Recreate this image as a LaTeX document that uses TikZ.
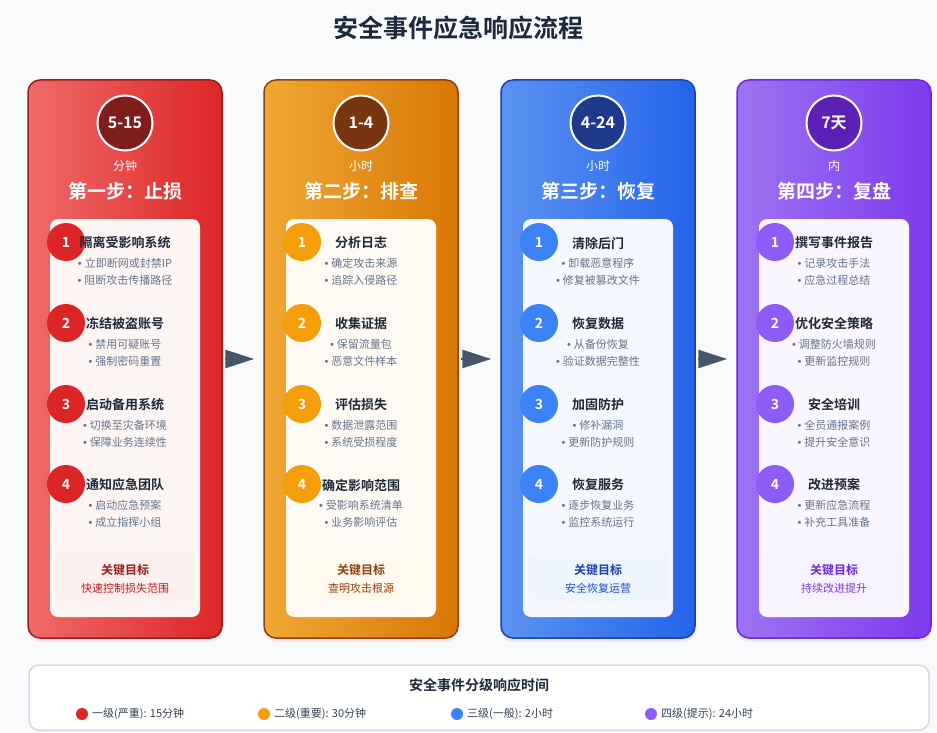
\documentclass[tikz,border=0pt]{standalone}
\usepackage{fontspec}
\setmainfont{Noto Sans CJK SC}[BoldFont={Noto Sans CJK SC Bold}]
\newfontfamily\latinf{Liberation Sans}
\usetikzlibrary{arrows.meta,shadows}
\definecolor{bg}{HTML}{F8FAFC}
\definecolor{ink}{HTML}{1E293B}
\definecolor{itemtitle}{HTML}{1F2937}
\definecolor{bulletc}{HTML}{64748B}
\definecolor{arrowc}{HTML}{475569}
\definecolor{legtext}{HTML}{334155}
\definecolor{legborder}{HTML}{D3DAE4}
% column 1 red
\definecolor{col1L}{HTML}{F06A6A}\definecolor{col1R}{HTML}{DC2626}\definecolor{col1B}{HTML}{991B1B}
\definecolor{col1D}{HTML}{7F1D1D}\definecolor{col1M}{HTML}{DC2626}\definecolor{col1P}{HTML}{FDF5F4}
\definecolor{col1G}{HTML}{FCF0EF}\definecolor{col1T}{HTML}{991B1B}\definecolor{col1S}{HTML}{B91C1C}
% column 2 orange
\definecolor{col2L}{HTML}{F0A834}\definecolor{col2R}{HTML}{D97706}\definecolor{col2B}{HTML}{92400E}
\definecolor{col2D}{HTML}{78350F}\definecolor{col2M}{HTML}{F59E0B}\definecolor{col2P}{HTML}{FFFAF3}
\definecolor{col2G}{HTML}{FFF9EE}\definecolor{col2T}{HTML}{92400E}\definecolor{col2S}{HTML}{92400E}
% column 3 blue
\definecolor{col3L}{HTML}{5B93F0}\definecolor{col3R}{HTML}{2563EB}\definecolor{col3B}{HTML}{1E40AF}
\definecolor{col3D}{HTML}{1E3A8A}\definecolor{col3M}{HTML}{3B82F6}\definecolor{col3P}{HTML}{F5F8FF}
\definecolor{col3G}{HTML}{EEF5FF}\definecolor{col3T}{HTML}{1E40AF}\definecolor{col3S}{HTML}{1D4ED8}
% column 4 purple
\definecolor{col4L}{HTML}{9D74F2}\definecolor{col4R}{HTML}{7C3AED}\definecolor{col4B}{HTML}{6D28D9}
\definecolor{col4D}{HTML}{5B21B6}\definecolor{col4M}{HTML}{8B5CF6}\definecolor{col4P}{HTML}{F9F6FF}
\definecolor{col4G}{HTML}{F7F3FE}\definecolor{col4T}{HTML}{6D28D9}\definecolor{col4S}{HTML}{7C3AED}

\tikzset{
  colbox/.style={rounded corners=12pt, line width=1.5pt, minimum width=194pt, minimum height=558pt, inner sep=0pt,
    drop shadow={opacity=0.12, shadow xshift=0pt, shadow yshift=-4pt}},
  timec/.style={circle, minimum size=55pt, inner sep=0pt, draw=white, line width=2pt, text=white,
    font=\bfseries\fontsize{16}{16}\selectfont},
  unitt/.style={inner sep=0pt, text=white, font=\fontsize{12}{12}\selectfont},
  steptitle/.style={inner sep=0pt, text=white, font=\bfseries\fontsize{19}{19}\selectfont},
  panel/.style={rounded corners=8pt, minimum width=150pt, minimum height=398pt, inner sep=0pt},
  numc/.style={circle, minimum size=38pt, inner sep=0pt, text=white, font=\bfseries\fontsize{14}{14}\selectfont},
  itemt/.style={inner sep=0pt, text=itemtitle, font=\bfseries\fontsize{13}{13}\selectfont},
  bul/.style={inner sep=0pt, text=bulletc, font=\fontsize{11}{11}\selectfont},
  goalbox/.style={rounded corners=6pt, minimum width=140pt, minimum height=48pt, inner sep=0pt},
  goalt/.style={inner sep=0pt, font=\bfseries\fontsize{12}{12}\selectfont},
  goals/.style={inner sep=0pt, font=\fontsize{11}{11}\selectfont},
  flowarr/.style={draw=arrowc, line width=2.5pt, shorten <=2pt, shorten >=9pt,
    -{Triangle[length=29pt, width=18pt]}},
  legbox/.style={rounded corners=10pt, fill=white, draw=legborder, line width=1.5pt,
    minimum width=900pt, minimum height=65pt, inner sep=0pt,
    drop shadow={opacity=0.08, shadow xshift=0pt, shadow yshift=-2pt}},
  legtitle/.style={inner sep=0pt, text=ink, font=\bfseries\fontsize{14}{14}\selectfont},
  dot/.style={circle, minimum size=12pt, inner sep=0pt},
  legt/.style={inner sep=0pt, anchor=west, text=legtext, font=\fontsize{11}{11}\selectfont},
  maintitle/.style={inner sep=0pt, text=ink, font=\bfseries\fontsize{25}{25}\selectfont},
}

\newcommand\bulmark{{\latinf •}\hspace{3pt}}
\newcommand\stepcolumn[5]{%
  \node[colbox, left color=col#1L, right color=col#1R, draw=col#1B] (c#1) at (#2,359) {};
  \node[timec, fill=col#1D] (t#1) at (#2,123) {#3};
  \node[unitt] (u#1) at (#2,166) {#4};
  \node[steptitle] (s#1) at (#2,191) {#5};
  \node[panel, fill=col#1P] (p#1) at (#2,418) {};
}
\newcommand\stepitem[7]{%
  \node[numc, fill=col#1M] (n#1-#3) at ({#2-59},{#4}) {#3};
  \node[itemt] (it#1-#3) at ({#2},{#4+1}) {#5};
  \node[bul] (ba#1-#3) at ({#2},{#4+21}) {\bulmark#6};
  \node[bul] (bb#1-#3) at ({#2},{#4+38}) {\bulmark#7};
}
\newcommand\stepgoal[4]{%
  \node[goalbox, fill=col#1G] (g#1) at (#2,577) {};
  \node[goalt, text=col#1T] (gt#1) at (#2,570) {#3};
  \node[goals, text=col#1S] (gs#1) at (#2,588) {#4};
}

\begin{document}
\begin{tikzpicture}[x=1pt, y=-1pt]
\useasboundingbox (0,0) rectangle (937,733);
\fill[bg] (0,0) rectangle (937,733);

\node[maintitle] (title) at (458,28) {安全事件应急响应流程};

% column 1
\stepcolumn{1}{125}{5-15}{分钟}{第一步：止损}
\stepitem{1}{125}{1}{242}{隔离受影响系统}{立即断网或封禁IP}{阻断攻击传播路径}
\stepitem{1}{125}{2}{323}{冻结被盗账号}{禁用可疑账号}{强制密码重置}
\stepitem{1}{125}{3}{404}{启动备用系统}{切换至灾备环境}{保障业务连续性}
\stepitem{1}{125}{4}{484}{通知应急团队}{启动应急预案}{成立指挥小组}
\stepgoal{1}{125}{关键目标}{快速控制损失范围}

% column 2
\stepcolumn{2}{361}{1-4}{小时}{第二步：排查}
\stepitem{2}{361}{1}{242}{分析日志}{确定攻击来源}{追踪入侵路径}
\stepitem{2}{361}{2}{323}{收集证据}{保留流量包}{恶意文件样本}
\stepitem{2}{361}{3}{404}{评估损失}{数据泄露范围}{系统受损程度}
\stepitem{2}{361}{4}{484}{确定影响范围}{受影响系统清单}{业务影响评估}
\stepgoal{2}{361}{关键目标}{查明攻击根源}

% column 3
\stepcolumn{3}{598}{4-24}{小时}{第三步：恢复}
\stepitem{3}{598}{1}{242}{清除后门}{卸载恶意程序}{修复被篡改文件}
\stepitem{3}{598}{2}{323}{恢复数据}{从备份恢复}{验证数据完整性}
\stepitem{3}{598}{3}{404}{加固防护}{修补漏洞}{更新防护规则}
\stepitem{3}{598}{4}{484}{恢复服务}{逐步恢复业务}{监控系统运行}
\stepgoal{3}{598}{关键目标}{安全恢复运营}

% column 4
\stepcolumn{4}{834}{7天}{内}{第四步：复盘}
\stepitem{4}{834}{1}{242}{撰写事件报告}{记录攻击手法}{应急过程总结}
\stepitem{4}{834}{2}{323}{优化安全策略}{调整防火墙规则}{更新监控规则}
\stepitem{4}{834}{3}{404}{安全培训}{全员通报案例}{提升安全意识}
\stepitem{4}{834}{4}{484}{改进预案}{更新应急流程}{补充工具准备}
\stepgoal{4}{834}{关键目标}{持续改进提升}

% arrows
\draw[flowarr] (c1) -- (c2);
\draw[flowarr] (c2) -- (c3);
\draw[flowarr] (c3) -- (c4);

% legend
\node[legbox] (leg) at (479,697.5) {};
\node[legtitle] (lt) at (479,685) {安全事件分级响应时间};
\node[dot, fill=col1M] (d1) at (82,714) {};
\node[legt] (l1) at (92,714) {一级(严重): 15分钟};
\node[dot, fill=col2M] (d2) at (264,714) {};
\node[legt] (l2) at (274,714) {二级(重要): 30分钟};
\node[dot, fill=col3M] (d3) at (457,714) {};
\node[legt] (l3) at (467,714) {三级(一般): 2小时};
\node[dot, fill=col4M] (d4) at (651,714) {};
\node[legt] (l4) at (661,714) {四级(提示): 24小时};
\end{tikzpicture}
\end{document}
